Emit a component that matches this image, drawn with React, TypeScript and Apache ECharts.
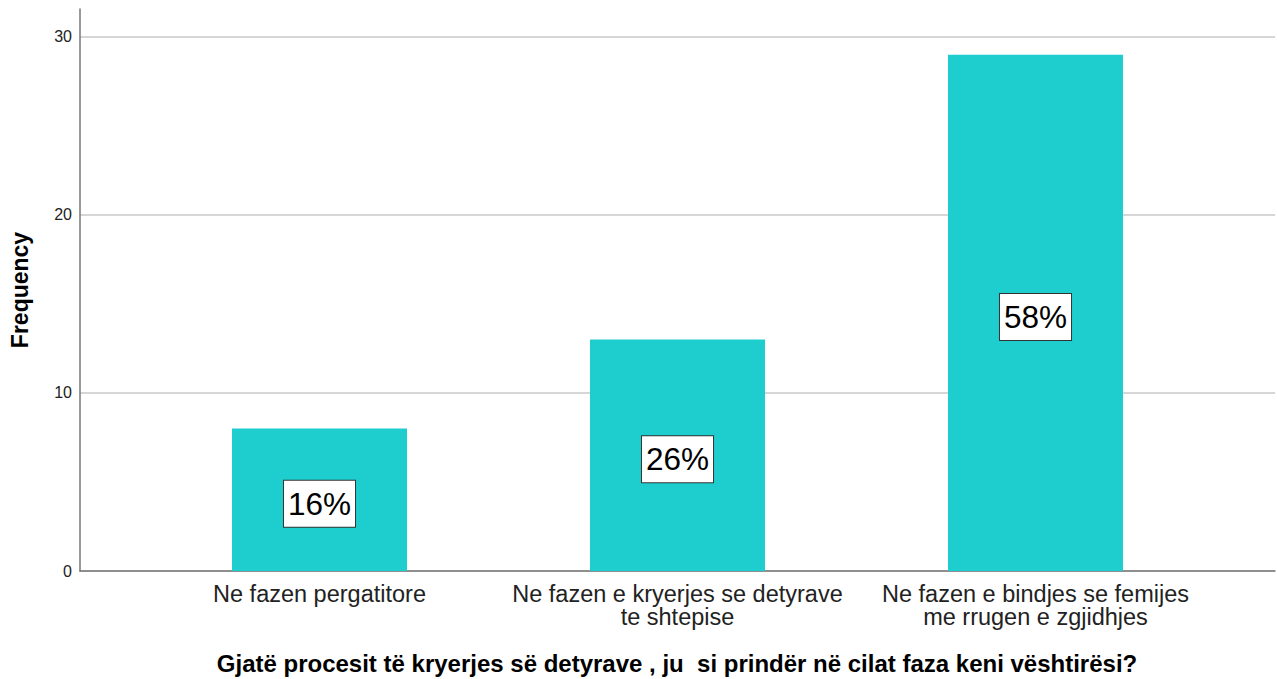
import React, { useEffect, useRef } from "react";
import * as echarts from "echarts";

const categories = [
  "Ne fazen pergatitore",
  "Ne fazen e kryerjes se detyrave\nte shtepise",
  "Ne fazen e bindjes se femijes\nme rrugen e zgjidhjes",
];
const frequencies = [8, 13, 29];
const percentLabels = ["16%", "26%", "58%"];
const yTicks = [0, 10, 20, 30];
const yAxisTitle = "Frequency";
const xAxisTitle =
  "Gjatë procesit të kryerjes së detyrave , ju  si prindër në cilat faza keni vështirësi?";

const FONT = "'Liberation Sans', Arial, sans-serif";

export default function App() {
  const ref = useRef<HTMLDivElement>(null);
  useEffect(() => {
    if (!ref.current) return;
    const chart = echarts.init(ref.current, null, { renderer: "svg" });
    const yMax = 31.57;
    chart.setOption({
      animation: false,
      backgroundColor: "#ffffff",
      textStyle: { fontFamily: FONT },
      grid: [
        { left: 80, right: 2, top: 9, bottom: 108 },
        { left: 140.5, width: 1074, top: 9, bottom: 108 },
      ],
      xAxis: [
        {
          gridIndex: 0,
          type: "value",
          min: 0,
          max: 1,
          axisLine: { show: true, lineStyle: { color: "#777", width: 1.5 } },
          axisTick: { show: false },
          axisLabel: { show: false },
          splitLine: { show: false },
        },
        {
          gridIndex: 1,
          type: "category",
          data: categories,
          axisLine: { show: false },
          axisTick: { show: false },
          axisLabel: {
            interval: 0,
            fontSize: 23.5,
            lineHeight: 23.5,
            color: "#222",
            margin: 11,
            fontFamily: FONT,
          },
        },
      ],
      yAxis: [
        {
          gridIndex: 0,
          type: "value",
          min: yTicks[0],
          max: yMax,
          interval: yTicks[1] - yTicks[0],
          axisLine: { show: true, lineStyle: { color: "#777", width: 1.5 } },
          axisTick: { show: false },
          axisLabel: {
            fontSize: 16,
            color: "#222",
            margin: 8,
            showMaxLabel: false,
            fontFamily: FONT,
            formatter: (v: number) => (yTicks.includes(v) ? String(v) : ""),
          },
          splitLine: {
            show: true,
            showMaxLine: false,
            lineStyle: { color: "#c8c8c8", width: 1.5 },
          },
        },
        {
          gridIndex: 1,
          type: "value",
          min: 0,
          max: yMax,
          show: false,
        },
      ],
      series: [
        {
          type: "bar",
          xAxisIndex: 1,
          yAxisIndex: 1,
          data: frequencies,
          barWidth: 175,
          itemStyle: { color: "#1ecdcd" },
          label: {
            show: true,
            position: "inside",
            offset: [0, 4],
            formatter: (p: any) => percentLabels[p.dataIndex],
            fontSize: 31.5,
            lineHeight: 33,
            color: "#000",
            fontFamily: FONT,
            backgroundColor: "#ffffff",
            borderColor: "#333",
            borderWidth: 1,
            padding: [7, 4, 6, 4],
          },
        },
      ],
      graphic: [
        {
          type: "text",
          x: 20,
          y: 290,
          rotation: Math.PI / 2,
          style: {
            text: yAxisTitle,
            fontSize: 23,
            fontWeight: "bold",
            fill: "#000",
            fontFamily: FONT,
            textAlign: "center",
            textVerticalAlign: "middle",
          },
        },
        {
          type: "text",
          x: 677,
          y: 663,
          style: {
            text: xAxisTitle,
            fontSize: 24,
            fontWeight: "bold",
            fill: "#000",
            fontFamily: FONT,
            textAlign: "center",
            textVerticalAlign: "middle",
          },
        },
      ],
    });
    return () => chart.dispose();
  }, []);
  return (
    <div
      ref={ref}
      style={{ position: "fixed", left: 0, top: 0, width: 1277, height: 679 }}
    />
  );
}
